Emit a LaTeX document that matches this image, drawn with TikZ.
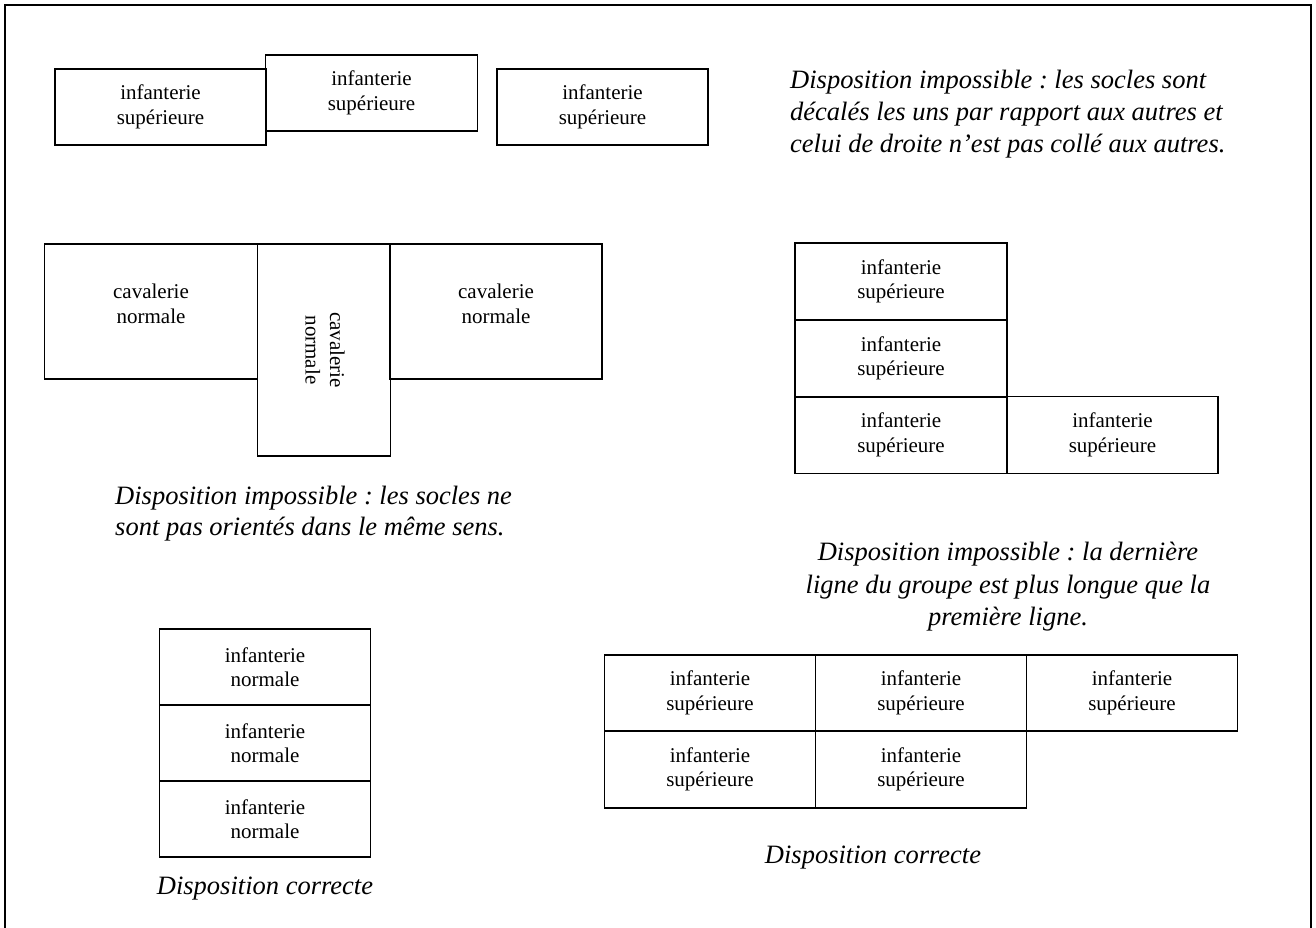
\documentclass[tikz,border=0pt]{standalone}
\usepackage{fontspec}
\setmainfont{Liberation Serif}
\frenchspacing
\begin{document}
\begin{tikzpicture}[x=1pt,y=-1pt,
  socle/.style={draw, line width=1.3pt, inner sep=0pt, align=center, font=\fontsize{21}{24.5}\selectfont},
  lbl/.style={inner sep=0pt, align=center, font=\fontsize{21}{24.5}\selectfont},
  legende/.style={inner sep=0pt, font=\fontsize{26.5}{30.5}\selectfont\itshape}]
\useasboundingbox (0,0) rectangle (1316,928);
\draw[line width=1.3pt] (5,940) -- (5,5) -- (1311,5) -- (1311,940);

% top row
\node[socle, minimum width=211pt, minimum height=76pt] (a1) at (160.5,107) {infanterie\\supérieure};
\node[socle, minimum width=212pt, minimum height=76pt] (a2) at (371.5,93) {infanterie\\supérieure};
\node[socle, minimum width=211pt, minimum height=76pt] (a3) at (602.5,107) {infanterie\\supérieure};

\node[legende, anchor=base west] (k1a) at (790,89) {Disposition impossible : les socles sont};
\node[legende, anchor=base west] (k1b) at (790,121) {décalés les uns par rapport aux autres et};
\node[legende, anchor=base west] (k1c) at (790,153) {celui de droite n’est pas collé aux autres.};

% cavalry
\node[socle, minimum width=213pt, minimum height=135pt] (c1) at (151,311.5) {};
\node[lbl] (t1) at (151,304) {cavalerie\\normale};
\node[socle, minimum width=133pt, minimum height=212pt] (c2) at (324,350) {};
\node[lbl, rotate=-90] (t2) at (325,350) {cavalerie\\normale};
\node[socle, minimum width=212pt, minimum height=135pt] (c3) at (496,311.5) {};
\node[lbl] (t3) at (496,304) {cavalerie\\normale};

\node[legende, anchor=base west] (k2a) at (115,504) {Disposition impossible : les socles ne};
\node[legende, anchor=base west] (k2b) at (115,535) {sont pas orientés dans le même sens.};

% right stack
\node[socle, minimum width=212pt, minimum height=77pt] (d1) at (901,281.5) {infanterie\\supérieure};
\node[socle, minimum width=212pt, minimum height=77pt] (d2) at (901,358.5) {infanterie\\supérieure};
\node[socle, minimum width=212pt, minimum height=77pt] (d3) at (901,435) {infanterie\\supérieure};
\node[socle, minimum width=211pt, minimum height=77pt] (d4) at (1112.5,435) {infanterie\\supérieure};

\node[legende, anchor=base] (k3a) at (1008,560) {Disposition impossible : la dernière};
\node[legende, anchor=base] (k3b) at (1008,593) {ligne du groupe est plus longue que la};
\node[legende, anchor=base] (k3c) at (1008,625) {première ligne.};

% bottom left stack
\node[socle, minimum width=211pt, minimum height=76pt] (e1) at (265,667) {infanterie\\normale};
\node[socle, minimum width=211pt, minimum height=76pt] (e2) at (265,743) {infanterie\\normale};
\node[socle, minimum width=211pt, minimum height=76pt] (e3) at (265,819) {infanterie\\normale};
\node[legende, anchor=base] (k4) at (265,894) {Disposition correcte};

% bottom right grid
\node[socle, minimum width=211pt, minimum height=76pt] (f1) at (710,693) {infanterie\\supérieure};
\node[socle, minimum width=211pt, minimum height=76pt] (f2) at (921,693) {infanterie\\supérieure};
\node[socle, minimum width=211pt, minimum height=76pt] (f3) at (1132,693) {infanterie\\supérieure};
\node[socle, minimum width=211pt, minimum height=77pt] (f4) at (710,769.5) {infanterie\\supérieure};
\node[socle, minimum width=211pt, minimum height=77pt] (f5) at (921,769.5) {infanterie\\supérieure};
\node[legende, anchor=base] (k5) at (873,863) {Disposition correcte};
\end{tikzpicture}
\end{document}
